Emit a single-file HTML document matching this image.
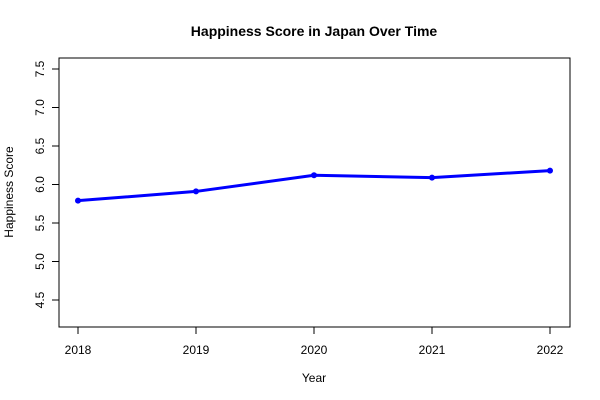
<!DOCTYPE html>
<html><head><meta charset="utf-8"><style>
body{margin:0;background:#fff;}
svg{display:block;font-family:"Liberation Sans",Arial,sans-serif;}
</style></head><body>
<svg id="chart" width="600" height="400">
<text x="314" y="36" text-anchor="middle" font-size="14" font-weight="bold">Happiness Score in Japan Over Time</text>
<rect x="59" y="58" width="511" height="269" fill="none" stroke="#000"/>
<text x="314" y="382" text-anchor="middle" font-size="12">Year</text>
<text transform="translate(13,192) rotate(-90)" text-anchor="middle" font-size="12">Happiness Score</text>
<g id="xaxis"></g>
<g id="yaxis"></g>
<g id="series"></g>
</svg>
<script>
const years = [2018, 2019, 2020, 2021, 2022];
const scores = [5.79, 5.91, 6.12, 6.09, 6.18];
const yTicks = [4.5, 5.0, 5.5, 6.0, 6.5, 7.0, 7.5];
const yTickLabels = ["4.5", "5.0", "5.5", "6.0", "6.5", "7.0", "7.5"];

const NS = "http://www.w3.org/2000/svg";
function xs(v){ return 78 + (v - 2018) * 118; }
function ys(v){ return 184.5 - (v - 6.0) * 77; }
function mk(tag, attrs, parent){
  const e = document.createElementNS(NS, tag);
  for (const k in attrs) e.setAttribute(k, attrs[k]);
  parent.appendChild(e);
  return e;
}
const xa = document.getElementById('xaxis');
years.forEach(y => {
  const t = mk('line', {x1: xs(y), x2: xs(y), y1: 327, y2: 334, stroke: '#000'}, xa);
  
  
  const l = mk('text', {x: xs(y), y: 354, 'text-anchor': 'middle', 'font-size': 12}, xa);
  l.textContent = y;
  
  
});
const ya = document.getElementById('yaxis');
yTicks.forEach((v, i) => {
  const t = mk('line', {x1: 52, x2: 59, y1: ys(v), y2: ys(v), stroke: '#000'}, ya);
  
  
  const l = mk('text', {transform: `translate(44,${ys(v)}) rotate(-90)`, 'text-anchor': 'middle', 'font-size': 12}, ya);
  l.textContent = yTickLabels[i];
  
  
});
const s = document.getElementById('series');
const pts = years.map((y, i) => xs(y) + ',' + ys(scores[i])).join(' ');
const pl = mk('polyline', {points: pts, fill: 'none', stroke: '#0000ff', 'stroke-width': 3}, s);


years.forEach((y, i) => {
  const c = mk('circle', {cx: xs(y), cy: ys(scores[i]), r: 3, fill: '#0000ff'}, s);
  
  
});
</script>
</body></html>
